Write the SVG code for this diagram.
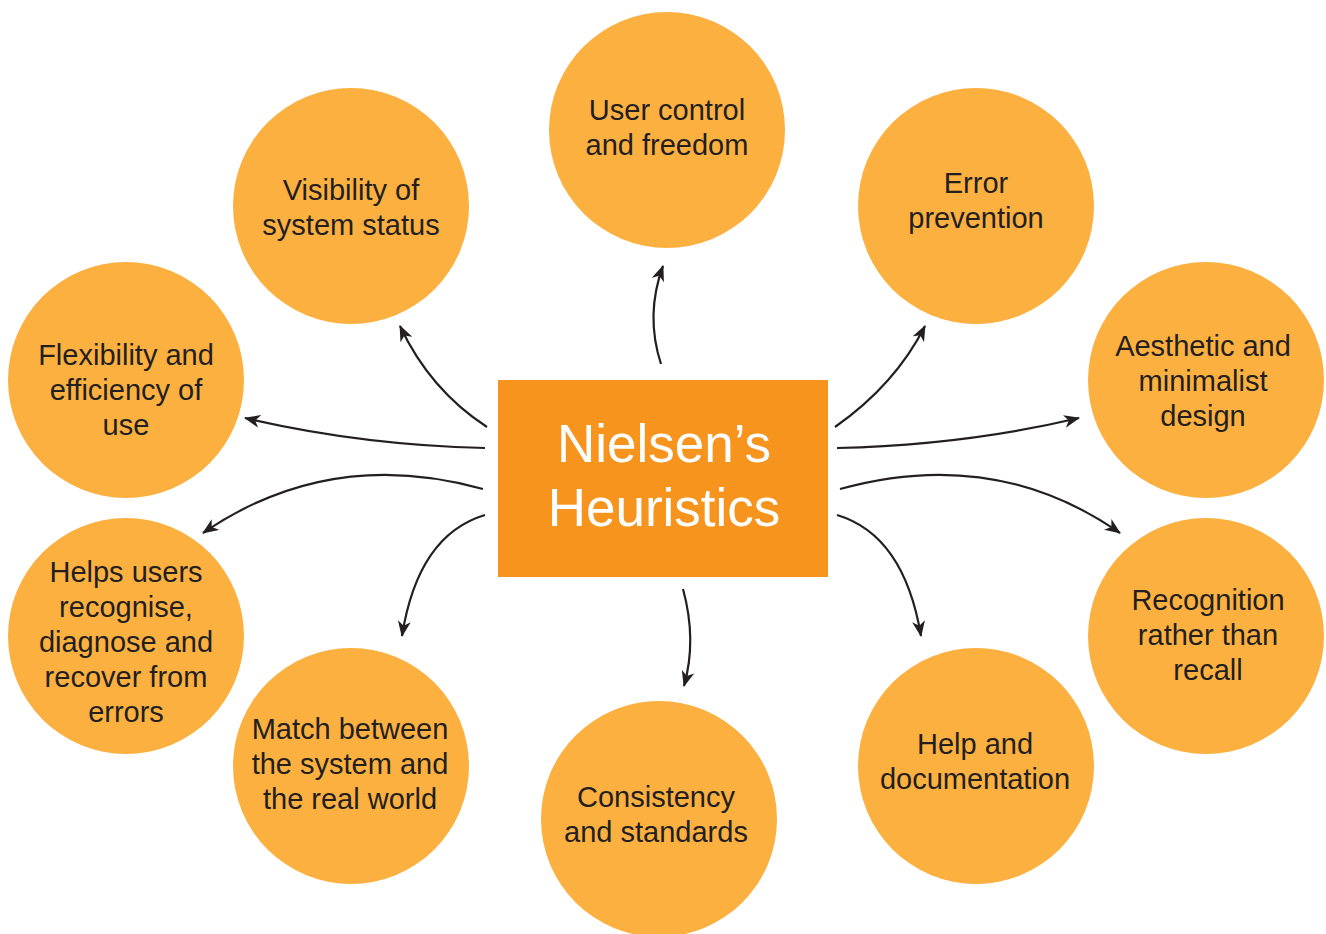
<svg xmlns="http://www.w3.org/2000/svg" width="1326" height="934" viewBox="0 0 1326 934">
<defs>
<marker id="ah" viewBox="0 0 16 13" refX="15" refY="6.5" markerWidth="16" markerHeight="13" markerUnits="userSpaceOnUse" orient="auto">
<path d="M0,0 L16,6.5 L0,13 L4.5,6.5 Z" fill="#231f20"/>
</marker>
<style>
.c{fill:#fbb040}
.t{font-family:"Liberation Sans",Arial,sans-serif;font-size:29px;fill:#231f20;text-anchor:middle}
.h{font-family:"Liberation Sans",Arial,sans-serif;font-size:53px;fill:#ffffff;text-anchor:middle}
.a{fill:none;stroke:#231f20;stroke-width:2.2;marker-end:url(#ah)}
</style>
</defs>
<rect width="1326" height="934" fill="#ffffff"/>
<g id="connectors">
<path class="a" d="M487,427 Q430,390 400,326"/>
<path class="a" d="M661,364 Q645,315 663,266"/>
<path class="a" d="M835,427 Q895,385 925,326"/>
<path class="a" d="M485,448 Q360,445 245,418"/>
<path class="a" d="M837,448 Q965,445 1079,418"/>
<path class="a" d="M483,489 Q330,446 203,533"/>
<path class="a" d="M840,489 Q995,446 1120,533"/>
<path class="a" d="M485,515 Q418,535 402,636"/>
<path class="a" d="M683,589 Q697,640 684,686"/>
<path class="a" d="M837,515 Q904,535 921,636"/>
</g>
<g id="center">
<rect x="498" y="380" width="330" height="197" fill="#f7941e"/>
<text class="h" x="664" y="462">Nielsen’s</text>
<text class="h" x="664" y="526">Heuristics</text>
</g>
<g id="visibility">
<circle class="c" cx="351" cy="206" r="118"/>
<text class="t" x="351" y="200">Visibility of</text>
<text class="t" x="351" y="235">system status</text>
</g>
<g id="user-control">
<circle class="c" cx="667" cy="130" r="118"/>
<text class="t" x="667" y="120">User control</text>
<text class="t" x="667" y="155">and freedom</text>
</g>
<g id="error-prevention">
<circle class="c" cx="976" cy="206" r="118"/>
<text class="t" x="976" y="193">Error</text>
<text class="t" x="976" y="228">prevention</text>
</g>
<g id="flexibility">
<circle class="c" cx="126" cy="380" r="118"/>
<text class="t" x="126" y="365">Flexibility and</text>
<text class="t" x="126" y="400">efficiency of</text>
<text class="t" x="126" y="435">use</text>
</g>
<g id="aesthetic">
<circle class="c" cx="1206" cy="380" r="118"/>
<text class="t" x="1203" y="356">Aesthetic and</text>
<text class="t" x="1203" y="391">minimalist</text>
<text class="t" x="1203" y="426">design</text>
</g>
<g id="helps-users">
<circle class="c" cx="126" cy="636" r="118"/>
<text class="t" x="126" y="582">Helps users</text>
<text class="t" x="126" y="617">recognise,</text>
<text class="t" x="126" y="652">diagnose and</text>
<text class="t" x="126" y="687">recover from</text>
<text class="t" x="126" y="722">errors</text>
</g>
<g id="recognition">
<circle class="c" cx="1206" cy="636" r="118"/>
<text class="t" x="1208" y="610">Recognition</text>
<text class="t" x="1208" y="645">rather than</text>
<text class="t" x="1208" y="680">recall</text>
</g>
<g id="match">
<circle class="c" cx="351" cy="766" r="118"/>
<text class="t" x="350" y="739">Match between</text>
<text class="t" x="350" y="774">the system and</text>
<text class="t" x="350" y="809">the real world</text>
</g>
<g id="consistency">
<circle class="c" cx="659" cy="819" r="118"/>
<text class="t" x="656" y="807">Consistency</text>
<text class="t" x="656" y="842">and standards</text>
</g>
<g id="help-doc">
<circle class="c" cx="976" cy="766" r="118"/>
<text class="t" x="975" y="754">Help and</text>
<text class="t" x="975" y="789">documentation</text>
</g>
</svg>
